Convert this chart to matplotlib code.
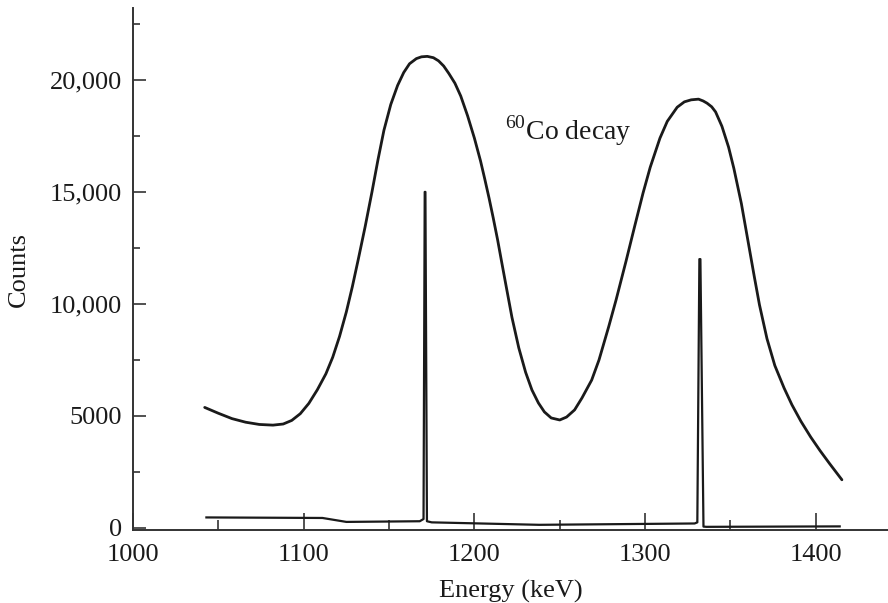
import matplotlib
matplotlib.use("Agg")
import matplotlib.pyplot as plt
from matplotlib.ticker import FixedLocator, MultipleLocator

plt.rcParams['font.family'] = ['Liberation Serif', 'DejaVu Serif']
plt.rcParams['mathtext.fontset'] = 'custom'
plt.rcParams['mathtext.rm'] = 'Liberation Serif'

# Broad scintillator spectrum
broad_energy = [1042, 1050, 1058, 1066, 1074, 1082, 1088, 1093, 1098, 1103,
                1108, 1113, 1117, 1121, 1125, 1128.5, 1132, 1136, 1140, 1143.5,
                1147, 1151, 1155, 1158.6, 1162, 1166, 1169, 1172.4, 1176, 1179,
                1182, 1185, 1188.6, 1192, 1196, 1200, 1203.6, 1206, 1208.6, 1211,
                1213.6, 1216, 1218.6, 1222, 1226, 1230, 1233.7, 1237.5, 1241, 1245,
                1250, 1254, 1258.7, 1263, 1268.7, 1273, 1278.7, 1283, 1288.8, 1294,
                1298.8, 1303, 1308.7, 1313, 1318.8, 1323, 1327, 1331.3, 1334, 1336.3,
                1339, 1341.3, 1345, 1348.9, 1352, 1356.4, 1360, 1363.9, 1367, 1371.4,
                1376, 1381.4, 1386, 1391.3, 1397, 1402.5, 1408, 1415.3]
broad_counts = [5380, 5120, 4880, 4720, 4620, 4590, 4640, 4800, 5100, 5560,
                6170, 6880, 7620, 8550, 9650, 10770, 12000, 13450, 15000, 16430,
                17750, 18900, 19750, 20330, 20720, 20950, 21030, 21050, 20990, 20850,
                20620, 20290, 19850, 19280, 18400, 17400, 16380, 15600, 14720, 13850,
                12860, 11860, 10790, 9400, 8040, 6950, 6160, 5580, 5180, 4910,
                4820, 4950, 5270, 5800, 6600, 7500, 8990, 10180, 11900, 13500,
                14950, 16100, 17400, 18150, 18780, 19020, 19110, 19140, 19060, 18960,
                18800, 18570, 17930, 17000, 16050, 14480, 12930, 11250, 9960, 8450,
                7250, 6250, 5500, 4760, 4060, 3450, 2880, 2150]

# Sharp germanium spectrum
sharp_energy = [1043, 1111, 1125, 1168, 1170.2, 1170.9, 1171.3, 1172.2, 1175,
                1238, 1329, 1330.6, 1331.8, 1332.4, 1334.2, 1336, 1414]
sharp_counts = [470, 446, 270, 300, 400, 15000, 15000, 300, 250,
                140, 200, 250, 12000, 12000, 60, 50, 70]

x_ticks = [1000, 1100, 1200, 1300, 1400]
y_ticks = [0, 5000, 10000, 15000, 20000]
y_tick_labels = ["0", "5000", "10,000", "15,000", "20,000"]

ink = "#1a1a1a"

fig = plt.figure(figsize=(8.88, 6.03), dpi=100)
ax = fig.add_axes([133 / 888, 1 - 530.2 / 603, 1 - 133 / 888, 522 / 603])

ax.plot(broad_energy, broad_counts, color=ink, lw=2.0,
        solid_capstyle='round', solid_joinstyle='round')
ax.plot(sharp_energy, sharp_counts, color=ink, lw=1.6)

ax.text(1218, 17350, r"$^{60}$Co decay", fontsize=20, color=ink)

ax.set_xlim(1000, 1442.3)
ax.set_ylim(-100, 23200)

ax.spines['top'].set_visible(False)
ax.spines['right'].set_visible(False)
for s in ['left', 'bottom']:
    ax.spines[s].set_linewidth(1.4)
    ax.spines[s].set_color("#333333")

ax.xaxis.set_major_locator(FixedLocator(x_ticks))
ax.xaxis.set_minor_locator(MultipleLocator(50))
ax.yaxis.set_major_locator(FixedLocator(y_ticks))
ax.set_yticklabels(y_tick_labels)
ax.yaxis.set_minor_locator(MultipleLocator(2500))

ax.tick_params(which='both', direction='in', color="#333333", width=1.2,
               labelsize=19, labelcolor=ink)
ax.tick_params(axis='x', which='major', length=12, pad=10)
ax.tick_params(axis='x', which='minor', length=7)
ax.tick_params(axis='y', which='major', length=9, pad=8)
ax.tick_params(axis='y', which='minor', length=5)

ax.set_xlabel("Energy (keV)", fontsize=19, color=ink)
ax.set_ylabel("Counts", fontsize=19, color=ink)
ax.xaxis.set_label_coords(0.5, -0.095)
ax.yaxis.set_label_coords(-0.136, 0.5)

fig.savefig("out.png", dpi=100)
